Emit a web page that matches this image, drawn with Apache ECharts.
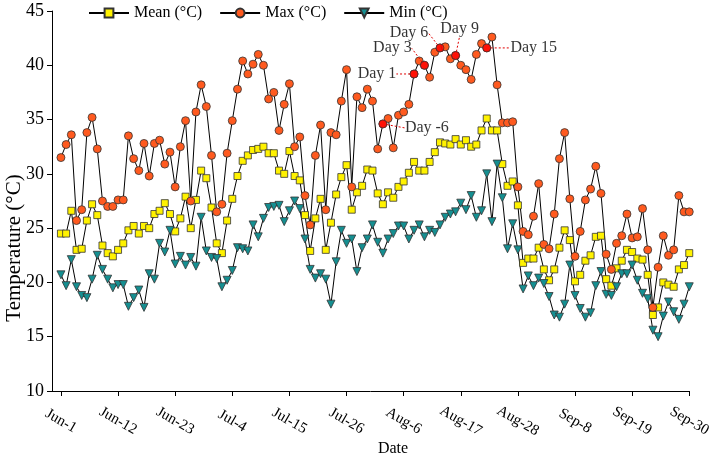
<!DOCTYPE html>
<html>
<head>
<meta charset="utf-8">
<script src="https://cdn.jsdelivr.net/npm/echarts@6/dist/echarts.min.js"></script>
<style>
  html, body { margin: 0; padding: 0; background: #fff; }
  #chart { width: 714px; height: 461px; }
</style>
</head>
<body>
<div id="chart"></div>
<script>
// day index 0 = Jun-1, 121 = Sep-30
const tickDays = [0, 11, 22, 33, 44, 55, 66, 77, 88, 99, 110, 121];
const tickLabels = ['Jun-1', 'Jun-12', 'Jun-23', 'Jul-4', 'Jul-15', 'Jul-26',
  'Aug-6', 'Aug-17', 'Aug-28', 'Sep-8', 'Sep-19', 'Sep-30'];

const meanT = [24.5,24.5,26.6,23.0,23.1,25.7,27.2,26.2,23.4,22.7,
  22.4,23.0,23.6,24.8,25.2,24.5,25.2,25.0,26.3,26.6,
  27.3,26.3,24.7,25.9,27.9,25.0,27.6,30.3,29.6,26.9,
  23.6,22.7,25.7,27.7,29.8,31.2,31.7,32.2,32.3,32.5,
  31.9,31.9,30.3,30.0,32.1,29.8,29.4,26.2,22.9,25.9,
  27.7,23.0,25.5,28.1,29.7,30.8,26.7,28.3,28.9,30.4,
  30.3,28.2,27.2,28.3,27.8,28.8,29.3,30.1,31.1,30.3,
  30.3,31.1,32.0,32.9,32.8,32.7,33.2,32.7,33.1,32.5,
  32.7,34.0,35.1,34.0,34.0,30.9,28.9,29.3,27.1,21.8,
  22.2,22.2,23.2,21.2,20.2,21.2,23.2,24.8,23.9,20.1,
  20.7,22.0,22.5,24.2,24.3,20.3,19.7,21.3,22.0,23.0,
  22.8,22.2,22.1,20.7,17.0,17.7,20.0,19.8,19.6,21.2,
  21.6,22.7];

const maxT = [31.5,32.7,33.6,25.7,26.7,33.8,35.2,32.3,27.5,27.0,
  27.0,27.6,27.6,33.5,31.4,30.3,32.8,29.8,32.8,33.1,
  30.9,32.0,28.8,32.5,34.9,27.5,35.7,38.2,36.2,31.7,
  26.5,27.2,31.9,34.9,37.8,40.4,39.2,40.1,41.0,40.0,
  36.9,37.5,34.0,36.4,38.3,32.5,33.4,28.0,25.3,31.7,
  34.5,26.7,33.8,33.6,36.7,39.6,28.8,37.1,36.1,37.8,
  36.7,32.3,34.6,35.1,32.4,35.4,35.7,36.4,39.2,40.4,
  40.0,38.9,41.2,41.6,41.7,40.6,40.9,40.0,39.6,38.7,
  41.0,42.0,41.6,42.6,38.2,34.7,34.7,34.8,28.8,24.7,
  24.4,26.1,29.1,23.5,23.1,26.3,31.4,33.8,27.7,22.4,
  24.7,27.6,28.6,30.7,28.2,22.6,21.2,23.6,24.3,26.3,
  24.1,24.2,26.8,23.0,17.7,21.4,24.3,22.5,23.0,28.0,
  26.5,26.5];

const minT = [20.7,19.7,22.1,19.6,18.8,18.6,20.3,22.5,21.2,20.3,
  19.5,19.8,19.8,17.8,18.6,19.3,17.7,20.8,20.3,23.6,
  22.8,24.8,21.7,22.4,21.6,22.3,21.5,26.0,22.9,22.3,
  22.2,19.6,20.2,21.1,23.2,23.1,22.9,25.3,24.2,25.9,
  26.9,27.0,27.1,25.6,26.6,27.5,26.8,24.0,21.2,20.4,
  20.8,20.3,18.0,21.9,24.8,23.6,24.0,21.0,23.2,24.0,
  25.3,23.7,22.7,24.0,24.5,25.2,25.2,24.0,24.8,25.3,
  24.2,24.8,24.6,25.3,26.0,26.3,26.5,27.3,26.7,28.0,
  26.0,26.6,30.0,25.6,30.9,27.8,23.1,25.4,23.0,19.4,
  20.6,19.7,20.4,19.9,18.7,17.0,16.8,18.0,21.6,18.8,
  17.6,16.8,17.2,19.7,21.0,18.9,18.8,19.6,20.8,20.8,
  21.6,20.2,19.0,18.5,15.6,15.0,16.9,18.2,17.3,16.6,
  18.0,19.6];

// highlighted days on the max curve
const markDays = [-6, 1, 3, 6, 9, 15];
const markIdx = [62, 68, 70, 73, 76, 82];

const FONT = '"Liberation Serif", "Times New Roman", serif';
// label offsets (px) for the day annotations
const labelShift = [[44, 4], [-37, 0], [-32, -17], [-31, -15], [4, -27], [47, 0]];

const chart = echarts.init(document.getElementById('chart'));

function pts(arr) {
  return arr.map((v, i) => [i, v]);
}

const option = {
  animation: false,
  backgroundColor: '#fff',
  textStyle: { fontFamily: FONT, color: '#000' },
  legend: {
    data: ['Mean (°C)', 'Max (°C)', 'Min (°C)'],
    left: 83,
    top: 0,
    itemWidth: 40,
    itemHeight: 11,
    itemGap: 17,
    textStyle: { fontFamily: FONT, fontSize: 16, color: '#000' }
  },
  grid: {
    left: 52,
    right: 19.5,
    top: 11,
    bottom: 70
  },
  xAxis: {
    type: 'value',
    min: -1.72,
    max: 121,
    axisLine: { onZero: false, lineStyle: { color: '#000', width: 1 } },
    axisTick: { customValues: tickDays, length: 5, lineStyle: { color: '#000' } },
    axisLabel: {
      customValues: tickDays,
      formatter: v => tickLabels[tickDays.indexOf(v)],
      rotate: -30,
      align: 'center',
      verticalAlign: 'middle',
      margin: 30,
      fontFamily: FONT,
      fontSize: 15,
      color: '#000'
    },
    splitLine: { show: false }
  },
  yAxis: {
    type: 'value',
    min: 10,
    max: 45,
    interval: 5,
    axisLine: { show: true, onZero: false, lineStyle: { color: '#000', width: 1 } },
    axisTick: { show: true, length: 5, lineStyle: { color: '#000' } },
    axisLabel: { fontFamily: FONT, fontSize: 18, color: '#000', margin: 8 },
    splitLine: { show: false }
  },
  graphic: [
    {
      type: 'text',
      x: 14,
      y: 248,
      rotation: Math.PI / 2,
      style: {
        text: 'Temperature (°C)',
        font: '21px ' + FONT,
        fill: '#000',
        align: 'center',
        verticalAlign: 'middle'
      }
    },
    {
      type: 'text',
      x: 393,
      y: 449,
      style: {
        text: 'Date',
        font: '16px ' + FONT,
        fill: '#000',
        align: 'center',
        verticalAlign: 'middle'
      }
    }
  ],
  series: [
    {
      name: 'Mean (°C)',
      type: 'line',
      data: pts(meanT),
      symbol: 'rect',
      symbolSize: 7,
      showAllSymbol: true,
      lineStyle: { color: '#000', width: 1 },
      itemStyle: { color: '#FFF200', borderColor: '#333', borderWidth: 0.8 }
    },
    {
      name: 'Max (°C)',
      type: 'line',
      data: pts(maxT),
      symbol: 'circle',
      symbolSize: 8,
      showAllSymbol: true,
      lineStyle: { color: '#000', width: 1 },
      itemStyle: { color: '#FF5A1F', borderColor: '#333', borderWidth: 0.8 }
    },
    {
      name: 'Min (°C)',
      type: 'line',
      data: pts(minT),
      symbol: 'triangle',
      symbolRotate: 180,
      symbolSize: 8,
      showAllSymbol: true,
      lineStyle: { color: '#000', width: 1 },
      itemStyle: { color: '#158F91', borderColor: '#333', borderWidth: 0.8 }
    },
    {
      name: 'Days',
      type: 'scatter',
      z: 5,
      data: markIdx.map(i => [i, maxT[i]]),
      symbol: 'circle',
      symbolSize: 8,
      itemStyle: { color: '#FF0000', borderColor: '#333', borderWidth: 0.8 },
      label: {
        show: true,
        position: 'inside',
        formatter: p => 'Day ' + markDays[p.dataIndex],
        fontFamily: FONT,
        fontSize: 16,
        color: '#000'
      },
      labelLayout: p => ({ dx: labelShift[p.dataIndex][0], dy: labelShift[p.dataIndex][1] }),
      labelLine: {
        show: true,
        lineStyle: { color: '#E00000', width: 1, type: [2, 2] }
      },
      emphasis: { disabled: true }
    }
  ]
};

chart.setOption(option);
window.addEventListener('resize', () => chart.resize());
</script>
</body>
</html>
